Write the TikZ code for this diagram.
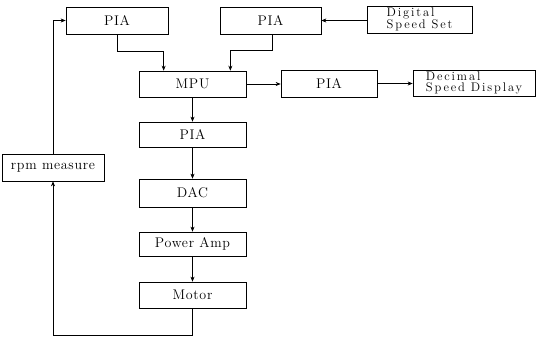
\documentclass[tikz,border=0pt]{standalone}
\usepackage{fontspec}
\newfontfamily\lmwide{Latin Modern Roman}[LetterSpace=5]
\newfontfamily\lmwider{Latin Modern Roman}[LetterSpace=15]
\usetikzlibrary{arrows.meta}
\begin{document}
\begin{tikzpicture}[x=1pt,y=-1pt,
  box/.style={draw, line width=0.7pt, inner sep=0pt,
    font=\lmwide\fontsize{14}{16}\selectfont},
  smallbox/.style={box, align=left,
    font=\lmwider\fontsize{12.5}{11.5}\selectfont},
  arr/.style={-{Stealth[length=5pt,width=4pt]}, line width=0.6pt}]
\useasboundingbox (0,0) rectangle (536,339);
\node[box, minimum width=102pt, minimum height=27pt] (pia1) at (117,20.5) {PIA};
\node[box, minimum width=101pt, minimum height=27pt] (pia2) at (270.5,20.5) {PIA};
\node[smallbox, minimum width=105pt, minimum height=27pt] (dss) at (419.5,19.5) {Digital\\Speed Set};
\node[box, minimum width=107pt, minimum height=26pt] (mpu) at (192.5,84) {MPU};
\node[box, minimum width=96pt, minimum height=27pt] (pia3) at (329,83.5) {PIA};
\node[smallbox, minimum width=122pt, minimum height=26pt] (dec) at (474,83) {Decimal\\Speed Display};
\node[box, minimum width=107pt, minimum height=25pt] (pia4) at (192.5,134.5) {PIA};
\node[box, minimum width=107pt, minimum height=28pt] (dac) at (192.5,193) {DAC};
\node[box, minimum width=107pt, minimum height=24pt] (pamp) at (192.5,244) {Power Amp};
\node[box, minimum width=107pt, minimum height=26pt] (motor) at (192.5,295) {Motor};
\node[box, minimum width=102pt, minimum height=27pt] (rpm) at (53,167.5) {rpm measure};

\draw[arr] (pia1.south) -- ++(0,17) -| ([xshift=25pt]mpu.north west);
\draw[arr] ([xshift=1.5pt]pia2.south) -- ++(0,16) -| ([xshift=-16pt]mpu.north east);
\draw[arr] (dss.west |- pia2.east) -- (pia2.east);
\draw[arr] (mpu.east) -- (mpu.east -| pia3.west);
\draw[arr] (pia3.east) -- (pia3.east -| dec.west);
\draw[arr] (mpu.south) -- (pia4.north);
\draw[arr, line width=0.4pt] (pia4.south) -- (dac.north);
\draw[arr] (dac.south) -- (pamp.north);
\draw[arr] (pamp.south) -- (motor.north);
\draw[arr] (motor.south) -- ++(0,27) -| (rpm.south);
\draw[arr] (rpm.north) |- (pia1.west);
\end{tikzpicture}
\end{document}
